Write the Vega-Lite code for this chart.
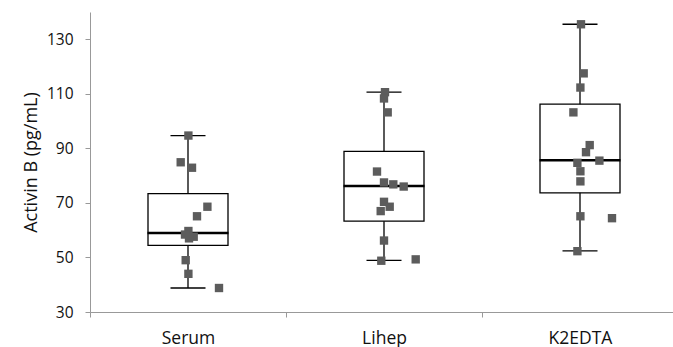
{
  "$schema": "https://vega.github.io/schema/vega-lite/v6.json",
  "width": 588,
  "height": 300,
  "autosize": {"type": "none"},
  "padding": {"left": 90, "top": 12, "right": 0, "bottom": 35},
  "background": "white",
  "config": {
    "view": {"stroke": null},
    "font": "Open Sans",
    "axis": {"labelFont": "Open Sans", "titleFont": "Open Sans", "labelColor": "#111", "titleColor": "#111"}
  },
  "datasets": {
    "stats": [
      {"group": "Serum", "min": 38.8, "q1": 54.4, "median": 59.0, "q3": 73.4, "max": 94.7},
      {"group": "Lihep", "min": 48.9, "q1": 63.3, "median": 76.2, "q3": 88.9, "max": 110.6},
      {"group": "K2EDTA", "min": 52.4, "q1": 73.7, "median": 85.6, "q3": 106.2, "max": 135.5}
    ],
    "points": [
      {"group": "Serum", "value": 94.7, "jitter": 0.4},
      {"group": "Serum", "value": 84.9, "jitter": -7.3},
      {"group": "Serum", "value": 82.9, "jitter": 4},
      {"group": "Serum", "value": 68.6, "jitter": 19.4},
      {"group": "Serum", "value": 65.1, "jitter": 9},
      {"group": "Serum", "value": 59.7, "jitter": 0.4},
      {"group": "Serum", "value": 58.4, "jitter": -3},
      {"group": "Serum", "value": 57.6, "jitter": 5.7},
      {"group": "Serum", "value": 57.0, "jitter": 1},
      {"group": "Serum", "value": 49.0, "jitter": -2.3},
      {"group": "Serum", "value": 44.0, "jitter": 0.4},
      {"group": "Serum", "value": 38.8, "jitter": 31},
      {"group": "Lihep", "value": 110.6, "jitter": 1},
      {"group": "Lihep", "value": 108.3, "jitter": 0},
      {"group": "Lihep", "value": 103.2, "jitter": 3.7},
      {"group": "Lihep", "value": 81.5, "jitter": -7},
      {"group": "Lihep", "value": 77.5, "jitter": 0},
      {"group": "Lihep", "value": 76.8, "jitter": 9.3},
      {"group": "Lihep", "value": 76.0, "jitter": 19.7},
      {"group": "Lihep", "value": 70.4, "jitter": 0},
      {"group": "Lihep", "value": 68.6, "jitter": 5.7},
      {"group": "Lihep", "value": 67.0, "jitter": -3.3},
      {"group": "Lihep", "value": 56.2, "jitter": 0},
      {"group": "Lihep", "value": 48.8, "jitter": -2.7},
      {"group": "Lihep", "value": 49.3, "jitter": 31.7},
      {"group": "K2EDTA", "value": 135.5, "jitter": 1},
      {"group": "K2EDTA", "value": 117.5, "jitter": 3.7},
      {"group": "K2EDTA", "value": 112.3, "jitter": 0.4},
      {"group": "K2EDTA", "value": 103.2, "jitter": -6.6},
      {"group": "K2EDTA", "value": 91.2, "jitter": 9.7},
      {"group": "K2EDTA", "value": 88.6, "jitter": 6},
      {"group": "K2EDTA", "value": 85.5, "jitter": 19.4},
      {"group": "K2EDTA", "value": 84.7, "jitter": -2.6},
      {"group": "K2EDTA", "value": 81.6, "jitter": 0.4},
      {"group": "K2EDTA", "value": 77.9, "jitter": 0.4},
      {"group": "K2EDTA", "value": 65.1, "jitter": 0.4},
      {"group": "K2EDTA", "value": 64.4, "jitter": 32},
      {"group": "K2EDTA", "value": 52.3, "jitter": -2.6}
    ]
  },
  "encoding": {
    "x": {
      "field": "group", "type": "nominal", "sort": ["Serum", "Lihep", "K2EDTA"],
      "scale": {"paddingInner": 0, "paddingOuter": 0},
      "axis": {
        "title": null, "labelAngle": 0, "labelFontSize": 17.5, "labelPadding": 12,
        "tickBand": "extent", "tickSize": 5, "tickColor": "#999", "domainColor": "#999",
        "labelColor": "#111"
      }
    }
  },
  "layer": [
    {
      "data": {"name": "stats"},
      "mark": {"type": "rule", "color": "black", "strokeWidth": 1.3},
      "encoding": {
        "y": {
          "field": "min", "type": "quantitative",
          "scale": {"domain": [30, 140], "nice": false},
          "axis": {
            "title": "Activin B (pg/mL)", "titleFontSize": 18, "titleFontWeight": "normal", "titlePadding": 6,
            "values": [30, 40, 50, 60, 70, 80, 90, 100, 110, 120, 130, 140],
            "labelExpr": "datum.value % 20 == 10 ? datum.label : ''",
            "labelFontSize": 15.5, "labelPadding": 12, "grid": false,
            "tickSize": 5, "tickColor": "#999", "domainColor": "#999"
          }
        },
        "y2": {"field": "max"}
      }
    },
    {
      "data": {"name": "stats"},
      "mark": {"type": "bar", "fill": "white", "stroke": "black", "strokeWidth": 1.3, "width": 80},
      "encoding": {
        "y": {"field": "q1", "type": "quantitative"},
        "y2": {"field": "q3"}
      }
    },
    {
      "data": {"name": "stats"},
      "mark": {"type": "tick", "color": "black", "size": 81, "thickness": 2.5, "opacity": 1},
      "encoding": {"y": {"field": "median", "type": "quantitative"}}
    },
    {
      "data": {"name": "stats"},
      "mark": {"type": "tick", "color": "black", "size": 35, "thickness": 1.3, "opacity": 1},
      "encoding": {"y": {"field": "min", "type": "quantitative"}}
    },
    {
      "data": {"name": "stats"},
      "mark": {"type": "tick", "color": "black", "size": 35, "thickness": 1.3, "opacity": 1},
      "encoding": {"y": {"field": "max", "type": "quantitative"}}
    },
    {
      "data": {"name": "points"},
      "mark": {"type": "square", "color": "#5c5c5c", "size": 70, "opacity": 1, "filled": true},
      "encoding": {
        "y": {"field": "value", "type": "quantitative"},
        "xOffset": {"field": "jitter", "type": "quantitative", "scale": {"domain": [-98, 98]}}
      }
    }
  ]
}
